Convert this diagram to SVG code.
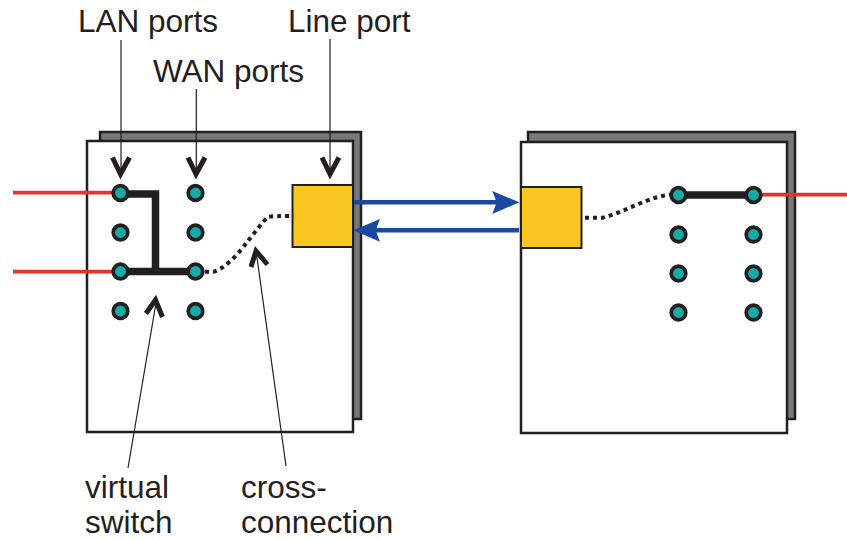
<svg xmlns="http://www.w3.org/2000/svg" width="847" height="540" viewBox="0 0 847 540">
<style>
.shadow{fill:#757978;stroke:#231f20;stroke-width:2.5}
.box{fill:#fff;stroke:#231f20;stroke-width:2.5}
.yellow{fill:#f9c61f;stroke:#231f20;stroke-width:2}
.port{fill:#17aba7;stroke:#231f20;stroke-width:3.700}
.red{fill:none;stroke:#e6332f;stroke-width:3.800}
.thick{fill:none;stroke:#231f20;stroke-width:7.500}
.dots{fill:none;stroke:#231f20;stroke-width:4;stroke-dasharray:4 4}
.blue{fill:none;stroke:#1a4a9f;stroke-width:4.500}
.bluehead{fill:#1a4a9f}
.lead{fill:none;stroke:#231f20;stroke-width:1.2}
.chev{fill:none;stroke:#231f20;stroke-width:5}
text{font-family:"Liberation Sans",Arial,sans-serif;font-size:31.500px;fill:#231f20}
</style>
<g id="node-left">
<rect class="shadow" x="100" y="132" width="261" height="287"/>
<rect class="box" x="87" y="141" width="266" height="291"/>
</g>
<g id="node-right">
<rect class="shadow" x="528" y="132" width="267" height="287"/>
<rect class="box" x="521" y="142" width="266" height="291"/>
</g>
<g id="connectors">
<path class="red" d="M13 192.700H112M13 271.700H112M760 194.700H847"/>
<path class="thick" d="M120 194H155.500V271M120 271.500H195M678 195H753"/>
<path class="dots" d="M205 271.700H214C226 268 240 252 247 242C254 234 262 222 268 217C272 216 282 216 292 216"/>
<path class="dots" d="M585 217.700H603C625 212 645 198 670 194.500"/>
<path class="blue" d="M353 202.300H498M519 230.300H375"/>
<path class="bluehead" d="M519.300 202.300L492.300 191L496.700 202.300L492.300 214Z"/>
<path class="bluehead" d="M353.300 230.300L380 219L375.700 230.300L380 241.700Z"/>
<path class="lead" d="M121 40V172M196.300 89V172M330 39V172M156 303L128 468M256.500 254L286 466"/>
<path class="chev" d="M112.500 157.500L120.500 174L129.500 157.500M188 157.500L196 174L205 157.500M322 157.500L330 174L339 157.500M146 313.500L155.500 300L162.500 317M251 267L256 251L267.500 264.500"/>
</g>
<g id="port-line-left"><rect class="yellow" x="292.500" y="185" width="60.500" height="62"/></g>
<g id="port-line-right"><rect class="yellow" x="521" y="187" width="60.500" height="61"/></g>
<g id="ports-left">
<circle class="port" cx="120.500" cy="193" r="7.300"/><circle class="port" cx="120.500" cy="232.500" r="7.300"/><circle class="port" cx="120.500" cy="271.500" r="7.300"/><circle class="port" cx="120.500" cy="311" r="7.300"/>
<circle class="port" cx="195.500" cy="193" r="7.300"/><circle class="port" cx="195.500" cy="232.500" r="7.300"/><circle class="port" cx="195.500" cy="271.500" r="7.300"/><circle class="port" cx="195.500" cy="311" r="7.300"/>
</g>
<g id="ports-right">
<circle class="port" cx="678.500" cy="195" r="7.300"/><circle class="port" cx="678.500" cy="234.500" r="7.300"/><circle class="port" cx="678.500" cy="273.500" r="7.300"/><circle class="port" cx="678.500" cy="312.500" r="7.300"/>
<circle class="port" cx="753.500" cy="195" r="7.300"/><circle class="port" cx="753.500" cy="234.500" r="7.300"/><circle class="port" cx="753.500" cy="273.500" r="7.300"/><circle class="port" cx="753.500" cy="312.500" r="7.300"/>
</g>
<g id="labels">
<text x="78" y="32">LAN ports</text>
<text x="153" y="82">WAN ports</text>
<text x="288" y="32">Line port</text>
<text x="85" y="498">virtual</text>
<text x="85" y="533">switch</text>
<text x="241" y="498">cross-</text>
<text x="241" y="533">connection</text>
</g>
</svg>
